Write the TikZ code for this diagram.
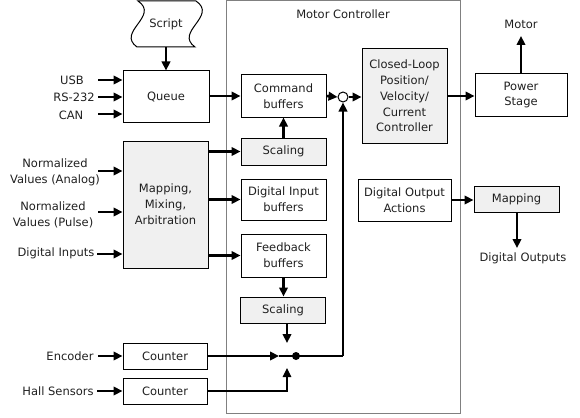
\documentclass[tikz,border=0pt]{standalone}
\usepackage{fontspec}
\setmainfont{DejaVu Sans}
\usetikzlibrary{arrows.meta}
\definecolor{boxgray}{HTML}{F0F0F0}
\definecolor{framegray}{HTML}{808080}
\definecolor{txt}{HTML}{202020}
\tikzset{
  blk/.style={draw=black, line width=1pt, fill=white, inner sep=1pt, align=center, text=txt},
  gblk/.style={blk, fill=boxgray},
  lbl/.style={align=center, inner sep=0pt, text=txt},
  conn/.style={line width=2.6pt, -{Triangle[length=9pt,width=8.5pt]}},
  thinconn/.style={line width=1.1pt, -{Triangle[length=9pt,width=8.5pt]}},
  thk/.style={line width=2.6pt},
  thn/.style={line width=1.1pt}
}
\begin{document}
\begin{tikzpicture}[x=1pt,y=-1pt,font=\fontsize{11.5}{15.8}\selectfont]
\useasboundingbox (0,0) rectangle (580,417);
% frame
\draw[framegray, line width=1pt] (226,0.5) rectangle (460,413);
\node[lbl] (mctitle) at (343,14) {Motor Controller};
% script
\draw[line width=1pt, fill=white] (138,1) .. controls (160,16) and (116,32) .. (137,47)
  -- (195,47) .. controls (174,32) and (218,16) .. (196,1) -- cycle;
\node[lbl] (script) at (166,24) {Script};
\coordinate (scriptb) at (166,47);
% boxes
\node[blk, minimum width=86, minimum height=51] (queue) at (166,96.5) {Queue};
\node[gblk, minimum width=85, minimum height=127] (mix) at (165.5,204.5) {Mapping,\\Mixing,\\Arbitration};
\node[blk, minimum width=84, minimum height=26] (cnt1) at (165,356) {Counter};
\node[blk, minimum width=84, minimum height=26] (cnt2) at (165,391) {Counter};
\node[blk, minimum width=85, minimum height=42] (cmd) at (283.5,96) {Command\\buffers};
\node[gblk, minimum width=85, minimum height=27] (scal1) at (283.5,151.5) {Scaling};
\node[blk, minimum width=85, minimum height=41] (dib) at (283.5,199.5) {Digital Input\\buffers};
\node[blk, minimum width=85, minimum height=43] (fbb) at (283.5,255.5) {Feedback\\buffers};
\node[gblk, minimum width=85, minimum height=26] (scal2) at (283,310) {Scaling};
\node[gblk, minimum width=85, minimum height=94] (cl) at (404.5,96) {Closed-Loop\\Position/\\Velocity/\\Current\\Controller};
\node[blk, minimum width=93, minimum height=42] (doa) at (404.5,200) {Digital Output\\Actions};
\node[blk, minimum width=92, minimum height=42] (ps) at (521,95) {Power\\Stage};
\node[gblk, minimum width=85, minimum height=26] (map) at (516.5,199) {Mapping};
\node[draw, line width=1pt, fill=white, circle, minimum size=10, inner sep=0] (sum) at (343,97) {};
\node[fill=black, circle, minimum size=8, inner sep=0] (dot) at (296,356) {};
% labels
\node[lbl] (usb) at (72,80) {USB};
\node[lbl] (rs) at (74,97) {RS-232};
\node[lbl] (can) at (71,115) {CAN};
\node[lbl] (nva) at (55,172) {Normalized\\Values (Analog)};
\node[lbl] (nvp) at (53,215) {Normalized\\Values (Pulse)};
\node[lbl] (din) at (56,253) {Digital Inputs};
\node[lbl] (enc) at (70,356) {Encoder};
\node[lbl] (hall) at (58,391) {Hall Sensors};
\node[lbl] (motor) at (521,24) {Motor};
\node[lbl] (dout) at (523,258) {Digital Outputs};
% coordinates
\coordinate (usbe) at (98,80);
\coordinate (rse) at (98,97);
\coordinate (cane) at (98,114);
\coordinate (nvae) at (98,171);
\coordinate (nvpe) at (98,212);
\coordinate (dine) at (97,254);
\coordinate (ence) at (98,356);
\coordinate (halle) at (97,391);
\coordinate (motort) at (521,36);
\coordinate (doutt) at (517,248);
\coordinate (corner) at (343,356);
\coordinate (topt) at (287,343);
\coordinate (bott) at (287,368);
\coordinate (hallc) at (287,391);
\coordinate (enct) at (279,356);
% connectors
\draw[conn] (scriptb) -- (queue.north);
\draw[conn] (usbe) -- (usbe -| queue.west);
\draw[conn] (rse) -- (rse -| queue.west);
\draw[conn] (cane) -- (cane -| queue.west);
\draw[conn] (nvae) -- (nvae -| mix.west);
\draw[conn] (nvpe) -- (nvpe -| mix.west);
\draw[conn] (dine) -- (dine -| mix.west);
\draw[conn] (ence) -- (cnt1.west);
\draw[conn] (halle) -- (cnt2.west);
\draw[conn] (queue.east |- cmd.west) -- (cmd.west);
\draw[conn] (mix.east |- scal1.west) -- (scal1.west);
\draw[conn] (mix.east |- dib.west) -- (dib.west);
\draw[conn] (mix.east |- fbb.west) -- (fbb.west);
\draw[conn] (scal1.north) -- (scal1.north |- cmd.south);
\draw[conn] (fbb.south) -- (fbb.south |- scal2.north);
\draw[conn] (scal2.south -| topt) -- (topt);
\draw[conn] (cmd.east) -- (sum.west);
\draw[conn] (sum.east) -- (sum.east -| cl.west);
\draw[conn] (cl.east) -- (cl.east -| ps.west);
\draw[conn] (ps.north) -- (motort);
\draw[conn] (doa.east) -- (doa.east -| map.west);
\draw[conn] (map.south -| doutt) -- (doutt);
\draw[conn] (cnt1.east) -- (enct);
\draw[thk] (enct) -- (dot.center);
\draw[thinconn] (cnt2.east) -- (hallc) -- (bott);
\draw[thn] (dot.center) -- (corner);
\draw[conn] (corner) -- (sum.south);
\end{tikzpicture}
\end{document}
